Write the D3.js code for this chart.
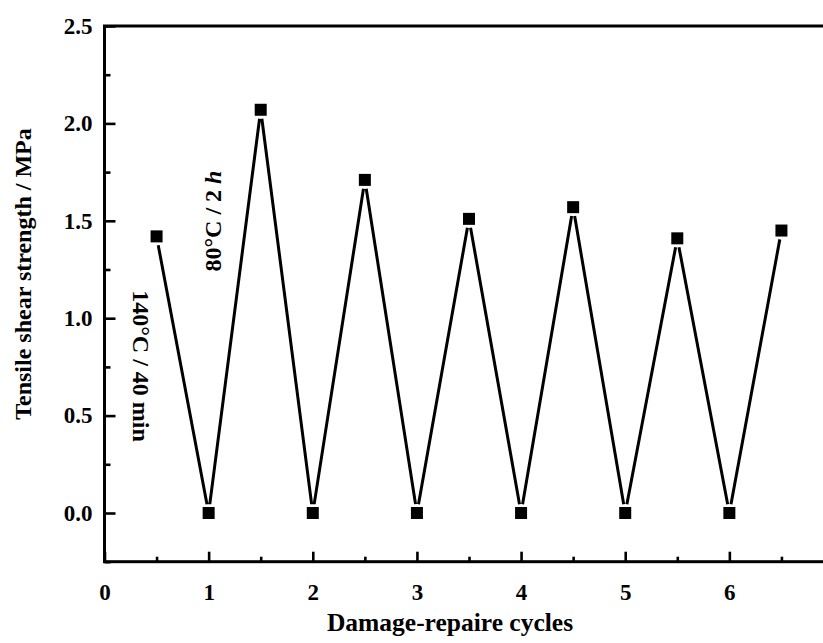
<!DOCTYPE html>
<html><head><meta charset="utf-8">
<script src="https://cdn.jsdelivr.net/npm/d3@7"></script>
<style>body{margin:0;background:#fff}svg{display:block}</style>
</head><body>
<svg id="c" width="823" height="643"></svg>
<script>
const cycles = [0.5, 1, 1.5, 2, 2.5, 3, 3.5, 4, 4.5, 5, 5.5, 6, 6.5];
const strength = [1.42, 0, 2.07, 0, 1.71, 0, 1.51, 0, 1.57, 0, 1.41, 0, 1.45];
const xTicks = [0, 1, 2, 3, 4, 5, 6, 7];
const xMinor = [0.5, 1.5, 2.5, 3.5, 4.5, 5.5, 6.5];
const yTicks = [0, 0.5, 1.0, 1.5, 2.0, 2.5];
const yMinor = [-0.25, 0.25, 0.75, 1.25, 1.75, 2.25];
const xTitle = "Damage-repaire cycles";
const yTitle = "Tensile shear strength / MPa";

const svg = d3.select("#c");
const L = 104.5, R = 833.5, T = 26, B = 561.7;
const x = d3.scaleLinear().domain([0, 7]).range([L, R]);
const y = d3.scaleLinear().domain([-0.25, 2.5]).range([B, T]);
const font = "'Liberation Serif','Times New Roman',serif";

const g = svg.append("g");
const xMaj = d3.axisBottom(x).tickValues(xTicks).tickSize(-10).tickFormat(d => d === 7 ? "" : d3.format("d")(d)).tickPadding(22);
const xMin = d3.axisBottom(x).tickValues(xMinor).tickSize(-5).tickFormat("");
const yMaj = d3.axisLeft(y).tickValues(yTicks).tickSize(-11).tickFormat(d3.format(".1f")).tickPadding(12);
const yMin = d3.axisLeft(y).tickValues(yMinor).tickSize(-6).tickFormat("");

function style(sel) {
  sel.select(".domain").remove();
  sel.selectAll("line").attr("stroke", "#000").attr("stroke-width", 2.6);
  sel.selectAll("text").attr("font-family", font).attr("font-weight", "bold").attr("font-size", 23).attr("fill", "#000");
}
g.append("g").attr("transform", `translate(0,${B})`).call(xMaj).call(style);
g.append("g").attr("transform", `translate(0,${B})`).call(xMin).call(style);
g.append("g").attr("transform", `translate(${L},0)`).call(yMaj).call(style);
g.append("g").attr("transform", `translate(${L},0)`).call(yMin).call(style);

svg.append("rect").attr("x", L).attr("y", T).attr("width", R - L).attr("height", B - T)
  .attr("fill", "none").attr("stroke", "#000").attr("stroke-width", 3);

const pts = cycles.map((c, i) => [x(c), y(strength[i])]);
const gap = 9;
let d = "";
for (let i = 0; i < pts.length - 1; i++) {
  const [x0, y0] = pts[i], [x1, y1] = pts[i + 1];
  const len = Math.hypot(x1 - x0, y1 - y0);
  const ux = (x1 - x0) / len, uy = (y1 - y0) / len;
  d += `M${x0 + ux * gap},${y0 + uy * gap}L${x1 - ux * gap},${y1 - uy * gap}`;
}
svg.append("path").attr("d", d).attr("fill", "none").attr("stroke", "#000").attr("stroke-width", 3);

const s = 12;
svg.selectAll("rect.m").data(cycles).enter().append("rect").attr("class", "m")
  .attr("x", (c) => x(c) - s / 2).attr("y", (c, i) => y(strength[i]) - s / 2)
  .attr("width", s).attr("height", s).attr("fill", "#000");

svg.append("text").attr("x", 450).attr("y", 631).attr("text-anchor", "middle")
  .attr("font-family", font).attr("font-weight", "bold").attr("font-size", 25.5).text(xTitle);
svg.append("text").attr("transform", "translate(31,274) rotate(-90)").attr("text-anchor", "middle")
  .attr("font-family", font).attr("font-weight", "bold").attr("font-size", 24).text(yTitle);

svg.append("text").attr("transform", "translate(133,366) rotate(90)").attr("text-anchor", "middle")
  .attr("font-family", font).attr("font-weight", "bold").attr("font-size", 24).text("140°C / 40 min");
const a2 = svg.append("text").attr("transform", "translate(221,221) rotate(-90)").attr("text-anchor", "middle")
  .attr("font-family", font).attr("font-weight", "bold").attr("font-size", 24);
a2.append("tspan").text("80°C / 2 ");
a2.append("tspan").attr("font-style", "italic").text("h");
</script>
</body></html>
